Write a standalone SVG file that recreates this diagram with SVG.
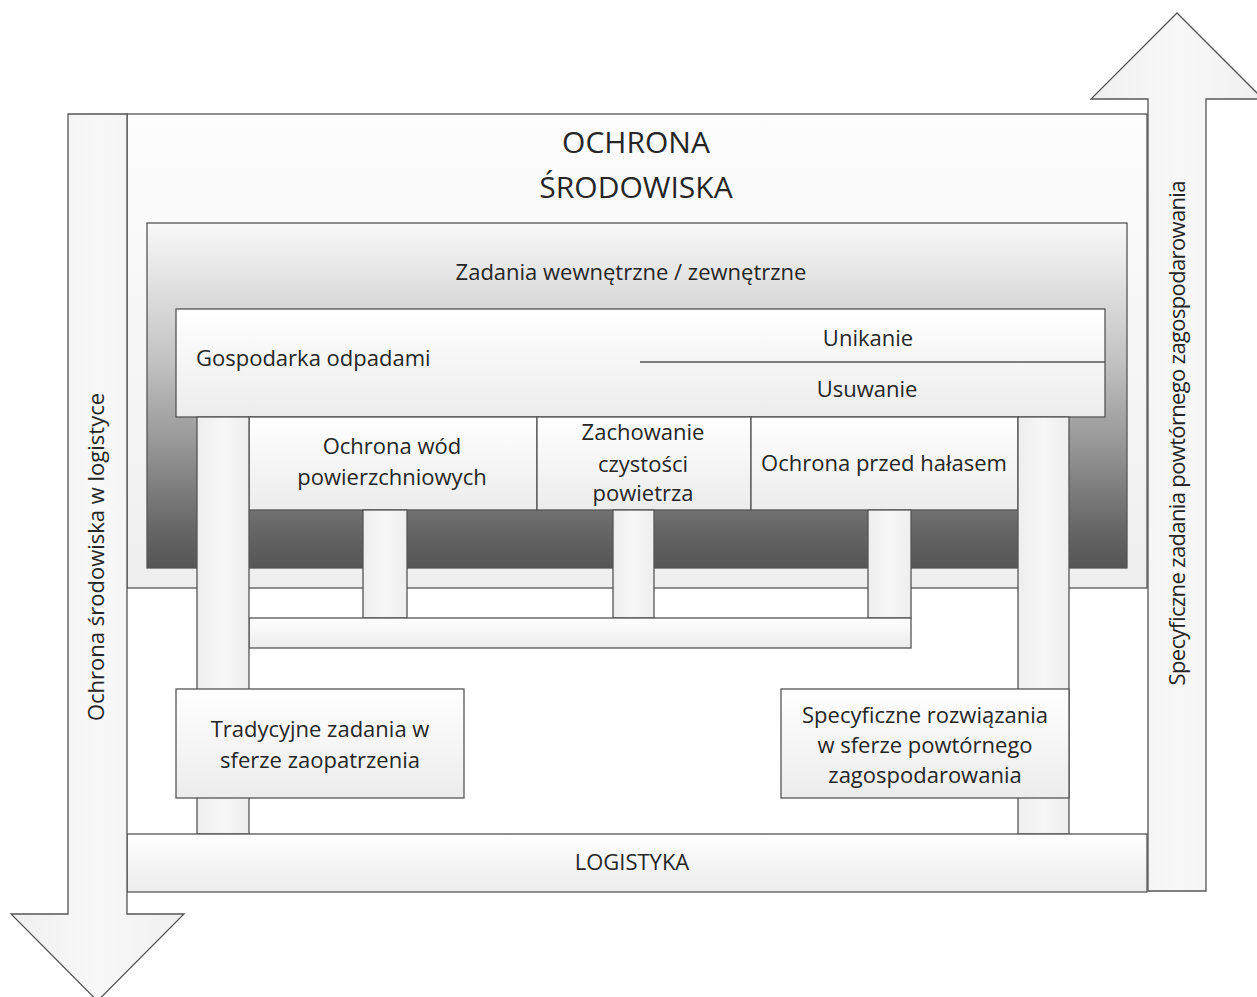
<svg xmlns="http://www.w3.org/2000/svg" width="1257" height="997" viewBox="0 0 1257 997">
<style>
.s{stroke:#555;stroke-width:1.3}
.t{font-family:"Open Sans","Liberation Sans",sans-serif;font-size:22px;fill:#262626;text-anchor:middle}
.ts{text-anchor:start}
.big{font-size:30px}
</style>
<defs>
<linearGradient id="gOuter" x1="0" y1="0" x2="0" y2="1"><stop offset="0" stop-color="#fdfdfd"/><stop offset="1" stop-color="#efefef"/></linearGradient>
<linearGradient id="gMid" x1="0" y1="0" x2="0" y2="1"><stop offset="0" stop-color="#f8f8f8"/><stop offset="0.14" stop-color="#e6e6e6"/><stop offset="0.4" stop-color="#c2c2c2"/><stop offset="0.66" stop-color="#939393"/><stop offset="0.89" stop-color="#666"/><stop offset="1" stop-color="#555"/></linearGradient>
<linearGradient id="gBox" x1="0" y1="0" x2="0" y2="1"><stop offset="0" stop-color="#ffffff"/><stop offset="1" stop-color="#ececec"/></linearGradient>
<linearGradient id="gCol" x1="0" y1="0" x2="1" y2="0"><stop offset="0" stop-color="#eeeeee"/><stop offset="0.5" stop-color="#f7f7f7"/><stop offset="1" stop-color="#eeeeee"/></linearGradient>
<linearGradient id="gArr" x1="0" y1="0" x2="1" y2="0"><stop offset="0" stop-color="#f0f0f0"/><stop offset="0.5" stop-color="#f8f8f8"/><stop offset="1" stop-color="#f0f0f0"/></linearGradient>
</defs>
<g id="ochrona-srodowiska">
<rect class="s" x="127" y="114" width="1020" height="474" fill="url(#gOuter)"/>
<text class="t big" x="636" y="153">OCHRONA</text>
<text class="t big" x="636" y="198">ŚRODOWISKA</text>
</g>
<g id="zadania">
<rect class="s" x="147" y="223" width="980" height="345" fill="url(#gMid)"/>
<text class="t" x="631" y="280">Zadania wewnętrzne / zewnętrzne</text>
</g>
<g id="gospodarka">
<rect class="s" x="176" y="309" width="929" height="108" fill="url(#gBox)"/>
<text class="t ts" x="196" y="366">Gospodarka odpadami</text>
<line class="s" x1="640" y1="362" x2="1105" y2="362"/>
<text class="t" x="868" y="346">Unikanie</text>
<text class="t" x="867" y="397">Usuwanie</text>
</g>
<g id="ochrona-wod">
<rect class="s" x="249" y="417" width="288" height="93" fill="url(#gBox)"/>
<text class="t" x="392" y="454">Ochrona wód</text>
<text class="t" x="392" y="485">powierzchniowych</text>
</g>
<g id="zachowanie">
<rect class="s" x="537" y="417" width="214" height="93" fill="url(#gBox)"/>
<text class="t" x="643" y="440">Zachowanie</text>
<text class="t" x="643" y="472">czystości</text>
<text class="t" x="643" y="501">powietrza</text>
</g>
<g id="halas">
<rect class="s" x="751" y="417" width="267" height="93" fill="url(#gBox)"/>
<text class="t" x="884" y="471">Ochrona przed hałasem</text>
</g>
<g id="connectors">
<rect class="s" x="363" y="510" width="44" height="108" fill="url(#gCol)"/>
<rect class="s" x="613" y="510" width="41" height="108" fill="url(#gCol)"/>
<rect class="s" x="868" y="510" width="43" height="108" fill="url(#gCol)"/>
<rect class="s" x="249" y="618" width="662" height="30" fill="url(#gBox)"/>
<rect class="s" x="197" y="417" width="52" height="417" fill="url(#gCol)"/>
<rect class="s" x="1018" y="417" width="51" height="417" fill="url(#gCol)"/>
</g>
<g id="tradycyjne">
<rect class="s" x="176" y="689" width="288" height="109" fill="url(#gBox)"/>
<text class="t" x="320" y="737">Tradycyjne zadania w</text>
<text class="t" x="320" y="768">sferze zaopatrzenia</text>
</g>
<g id="specyficzne">
<rect class="s" x="781" y="689" width="288" height="109" fill="url(#gBox)"/>
<text class="t" x="925" y="723">Specyficzne rozwiązania</text>
<text class="t" x="925" y="753">w sferze powtórnego</text>
<text class="t" x="925" y="783">zagospodarowania</text>
</g>
<g id="logistyka">
<rect class="s" x="127" y="834" width="1020" height="58" fill="url(#gBox)"/>
<text class="t" x="632" y="870">LOGISTYKA</text>
</g>
<g id="arrow-left">
<polygon class="s" points="68,114 127,114 127,914 184,914 97.5,1001 11,914 68,914" fill="url(#gArr)"/>
<text class="t" transform="translate(104,557) rotate(-90)">Ochrona środowiska w logistyce</text>
</g>
<g id="arrow-right">
<polygon class="s" points="1148,891 1148,99 1091,99 1177,13 1263,99 1206,99 1206,891" fill="url(#gArr)"/>
<text class="t" transform="translate(1185,433) rotate(-90)" textLength="505" lengthAdjust="spacing">Specyficzne zadania powtórnego zagospodarowania</text>
</g>
</svg>
